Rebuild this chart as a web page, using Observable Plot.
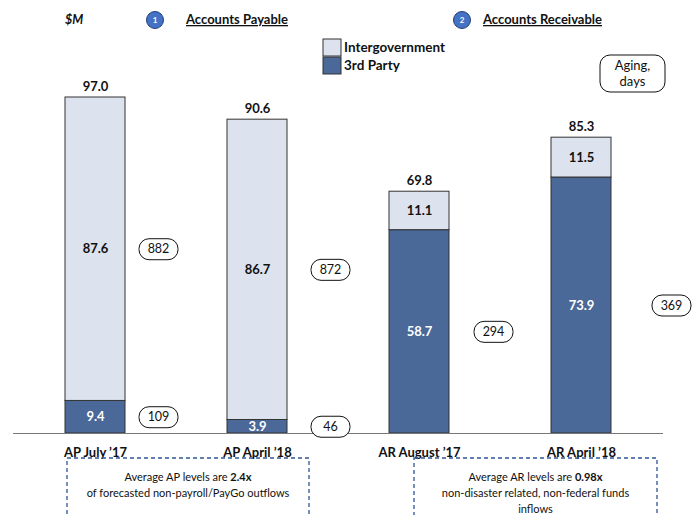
<!DOCTYPE html>
<html>
<head>
<meta charset="utf-8">
<script src="https://cdn.jsdelivr.net/npm/d3@7"></script>
<script src="https://cdn.jsdelivr.net/npm/@observablehq/plot@0.6"></script>
<style>
  html, body { margin: 0; padding: 0; background: #fff; }
  svg text { font-family: Lato, "Open Sans", sans-serif; }
</style>
</head>
<body>
<div id="chart"></div>
<script>
// ---- data ----
const categories = ["AP July \u201917", "AP April \u201918", "AR August \u201917", "AR April \u201918"];
const series = ["3rd Party", "Intergovernment"];
const thirdParty = [9.4, 3.9, 58.7, 73.9];
const intergov = [87.6, 86.7, 11.1, 11.5];
const totals = [97.0, 90.6, 69.8, 85.3];
const agingDays = [882, 109, 872, 46, 294, 369];
const agingBar = [0, 0, 1, 1, 2, 3];
const agingSeries = ["Intergovernment", "3rd Party", "Intergovernment", "3rd Party", "3rd Party", "3rd Party"];
const headers = ["Accounts Payable", "Accounts Receivable"];
const noteAP = ["Average AP levels are ", "2.4x", "of forecasted non-payroll/PayGo outflows"];
const noteAR = ["Average AR levels are ", "0.98x", "non-disaster related, non-federal funds", "inflows"];

// ---- styles ----
const colors = {"Intergovernment": "#DCE3EE", "3rd Party": "#4A6898"};
const pillDx = [63, 73, 74, 90];

const rows = [];
categories.forEach((c, i) => {
  rows.push({cat: c, series: "3rd Party", value: thirdParty[i]});
  rows.push({cat: c, series: "Intergovernment", value: intergov[i]});
});
const segLabels = categories.flatMap((c, i) => [
  {cat: c, series: "3rd Party", value: thirdParty[i], mid: thirdParty[i] / 2},
  {cat: c, series: "Intergovernment", value: intergov[i], mid: thirdParty[i] + intergov[i] / 2}
]);
const totalRows = categories.map((c, i) => ({cat: c, total: totals[i]}));
const pills = agingDays.map((d, k) => {
  const i = agingBar[k];
  const mid = agingSeries[k] === "3rd Party" ? thirdParty[i] / 2 : thirdParty[i] + intergov[i] / 2;
  return {cat: categories[i], bar: i, days: d, mid};
});

function roundRect(w, h, r) {
  return {
    draw(ctx) {
      const x0 = -w / 2, x1 = w / 2, y0 = -h / 2, y1 = h / 2;
      ctx.moveTo(x0 + r, y0);
      ctx.lineTo(x1 - r, y0);
      ctx.arcTo(x1, y0, x1, y0 + r, r);
      ctx.lineTo(x1, y1 - r);
      ctx.arcTo(x1, y1, x1 - r, y1, r);
      ctx.lineTo(x0 + r, y1);
      ctx.arcTo(x0, y1, x0, y1 - r, r);
      ctx.lineTo(x0, y0 + r);
      ctx.arcTo(x0, y0, x0 + r, y0, r);
      ctx.closePath();
    }
  };
}
const pillSym = roundRect(39, 21, 10);

const pillMarks = categories.flatMap((c, i) => {
  const data = pills.filter(p => p.bar === i);
  return [
    Plot.dot(data, {x: "cat", y: "mid", symbol: pillSym, r: 5, fill: "white", stroke: "#111", strokeWidth: 1, dx: pillDx[i]}),
    Plot.text(data, {x: "cat", y: "mid", text: d => String(d.days), dx: pillDx[i], fontSize: 12.5, fill: "#111"})
  ];
});

const chart = Plot.plot({
  width: 694,
  height: 515,
  marginLeft: 13,
  marginRight: 31,
  marginTop: 97,
  marginBottom: 82,
  style: {fontFamily: "Lato, 'Open Sans', sans-serif", background: "white", overflow: "visible"},
  x: {type: "band", domain: categories, padding: 0, axis: null},
  y: {domain: [0, 97], axis: null},
  color: {domain: ["Intergovernment", "3rd Party"], range: [colors["Intergovernment"], colors["3rd Party"]]},
  marks: [
    Plot.barY(rows, Plot.stackY({x: "cat", y: "value", fill: "series", z: "series", order: series, stroke: "#333", strokeWidth: 1, insetLeft: 51, insetRight: 51})),
    Plot.ruleY([0], {stroke: "#777", strokeWidth: 1.2}),
    Plot.text(segLabels, {x: "cat", y: "mid", text: d => d.value.toFixed(1), fill: d => d.series === "3rd Party" ? "white" : "#111", fontWeight: "bold", fontSize: 13}),
    Plot.text(totalRows, {x: "cat", y: "total", text: d => d.total.toFixed(1), dy: -11, fontWeight: "bold", fontSize: 13, fill: "#111"}),
    Plot.axisX({domain: categories, tickSize: 0, tickPadding: 14, fontWeight: "bold", fontSize: 13, label: null, fill: "#111"}),
    ...pillMarks
  ]
});

document.getElementById("chart").appendChild(chart);

// ---- annotations ----
const svg = d3.select(chart);
const ann = svg.append("g")
  .attr("font-family", "Lato, 'Open Sans', sans-serif")
  .attr("fill", "#111")
  .attr("text-anchor", "start");
const color = chart.scale("color");

ann.append("text").attr("x", 65).attr("y", 24).attr("font-size", 12.5).attr("font-weight", "bold").attr("font-style", "italic").text("$M");

const headerPos = [{cx: 155, tx: 186}, {cx: 462, tx: 483}];
headers.forEach((h, i) => {
  ann.append("circle").attr("cx", headerPos[i].cx).attr("cy", 20).attr("r", 8.5).attr("fill", "#4472C4").attr("stroke", "#24407a").attr("stroke-width", 1);
  ann.append("text").attr("x", headerPos[i].cx).attr("y", 23).attr("text-anchor", "middle").attr("font-size", 8).attr("font-weight", "bold").attr("fill", "white").text(String(i + 1));
  ann.append("text").attr("x", headerPos[i].tx).attr("y", 24).attr("font-size", 13).attr("font-weight", "bold").style("text-decoration", "underline").text(h);
});

// legend
["Intergovernment", "3rd Party"].forEach((s, i) => {
  ann.append("rect").attr("x", 323).attr("y", 39 + i * 18).attr("width", 18).attr("height", 17).attr("fill", color.apply(s)).attr("stroke", "#333").attr("stroke-width", 1);
  ann.append("text").attr("x", 344).attr("y", 52 + i * 18).attr("font-size", 13.5).attr("font-weight", "bold").text(s);
});

// aging pill
ann.append("rect").attr("x", 600).attr("y", 55).attr("width", 65).attr("height", 37).attr("rx", 10).attr("fill", "white").attr("stroke", "#111").attr("stroke-width", 1);
ann.append("text").attr("x", 632.5).attr("y", 70).attr("text-anchor", "middle").attr("font-size", 13).text("Aging,");
ann.append("text").attr("x", 632.5).attr("y", 86).attr("text-anchor", "middle").attr("font-size", 13).text("days");

// dashed note boxes
function noteBox(x0, x1, lines) {
  ann.append("rect").attr("x", x0).attr("y", 458).attr("width", x1 - x0).attr("height", 80)
    .attr("fill", "none").attr("stroke", "#2F5597").attr("stroke-width", 1.3).attr("stroke-dasharray", "4,3");
  const cx = (x0 + x1) / 2;
  const t = ann.append("text").attr("x", cx).attr("y", 481).attr("text-anchor", "middle").attr("font-size", 11);
  t.append("tspan").text(lines[0]);
  t.append("tspan").attr("font-weight", "bold").text(lines[1]);
  lines.slice(2).forEach((l, k) => {
    ann.append("text").attr("x", cx).attr("y", 497 + k * 15.5).attr("text-anchor", "middle").attr("font-size", 11).text(l);
  });
}
noteBox(67, 309, noteAP);
noteBox(414, 657, noteAR);
</script>
</body>
</html>
